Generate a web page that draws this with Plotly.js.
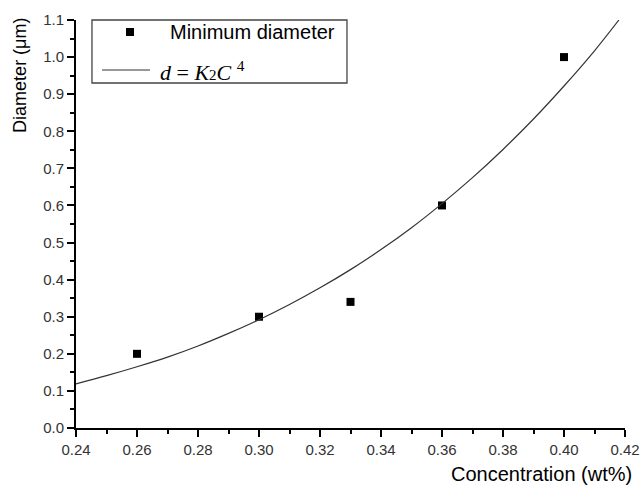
<!DOCTYPE html>
<html><head><meta charset="utf-8">
<script src="https://cdn.plot.ly/plotly-3.0.1.min.js"></script>
<style>body{margin:0;background:#fff}#chart{width:640px;height:485px}</style>
</head><body><div id="chart"></div>
<script>
// Measured points
var concentration = [0.26, 0.30, 0.33, 0.36, 0.40];
var diameter = [0.20, 0.30, 0.34, 0.60, 1.00];
// Fitted curve d = K2*C^4
var fitC = [0.24, 0.25, 0.26, 0.27, 0.28, 0.29, 0.30, 0.31, 0.32, 0.33, 0.34, 0.35, 0.36, 0.37, 0.38, 0.39, 0.40, 0.41, 0.418];
var fitD = [0.119, 0.141, 0.165, 0.191, 0.221, 0.255, 0.292, 0.333, 0.378, 0.427, 0.481, 0.540, 0.605, 0.675, 0.751, 0.833, 0.922, 1.017, 1.100];
var xTicks = [0.24, 0.26, 0.28, 0.30, 0.32, 0.34, 0.36, 0.38, 0.40, 0.42];
var yTicks = [0.0, 0.1, 0.2, 0.3, 0.4, 0.5, 0.6, 0.7, 0.8, 0.9, 1.0, 1.1];
var seriesNames = ['Minimum diameter',
  '<i>d</i> = <i>K</i><span style="font-size:15px">2</span><i>C</i> <sup>4</sup>'];

var traces = [
  {x: concentration, y: diameter, mode: 'markers', type: 'scatter',
   name: 'Minimum diameter', showlegend: false,
   marker: {symbol: 'square', size: 8, color: '#000'}},
  {x: fitC, y: fitD, mode: 'lines', type: 'scatter', showlegend: false, name: 'fit',
   line: {shape: 'spline', color: '#333', width: 1.2}}
];
var axisCommon = {showgrid: false, zeroline: false, showline: true, linecolor: '#000', linewidth: 2,
  ticks: 'outside', ticklen: 7, tickwidth: 1.5, tickcolor: '#000',
  tickfont: {family: 'Liberation Sans, Arial, sans-serif', size: 15, color: '#333'}};
var layout = {
  width: 640, height: 485,
  margin: {l: 76, r: 15, t: 20, b: 57},
  paper_bgcolor: '#fff', plot_bgcolor: '#fff',
  showlegend: false,
  xaxis: Object.assign({}, axisCommon, {range: [0.24, 0.42], tickvals: xTicks,
    ticktext: xTicks.map(function(v){return v.toFixed(2);}),
    minor: {dtick: 0.01, tick0: 0.24, ticklen: 4, tickwidth: 1.5, tickcolor: '#000', ticks: 'outside'}}),
  yaxis: Object.assign({}, axisCommon, {range: [0, 1.1], tickvals: yTicks,
    ticktext: yTicks.map(function(v){return v.toFixed(1);}),
    minor: {dtick: 0.05, tick0: 0, ticklen: 4, tickwidth: 1.5, tickcolor: '#000', ticks: 'outside'}}),
  shapes: [
    // legend box
    {type: 'rect', xref: 'paper', yref: 'paper', x0: 0.0291, x1: 0.4936, y0: 0.8456, y1: 1.0,
     line: {color: '#444', width: 1.3}, fillcolor: '#fff', layer: 'above'},
    // legend marker sample
    {type: 'rect', xref: 'paper', yref: 'paper', xsizemode: 'pixel', ysizemode: 'pixel',
     xanchor: 0.0984, yanchor: 0.9706, x0: -4, x1: 4, y0: -4, y1: 4,
     line: {width: 0}, fillcolor: '#000', layer: 'above'},
    // legend line sample
    {type: 'line', xref: 'paper', yref: 'paper', x0: 0.0474, x1: 0.1348, y0: 0.8775, y1: 0.8775,
     line: {color: '#333', width: 1.2}, layer: 'above'}
  ],
  annotations: [
    {text: seriesNames[0], xref: 'paper', yref: 'paper', x: 0.1676, y: 0.9706,
     xanchor: 'left', yanchor: 'middle', showarrow: false,
     font: {family: 'Liberation Sans, Arial, sans-serif', size: 20, color: '#000'}},
    {text: seriesNames[1], xref: 'paper', yref: 'paper', x: 0.150, y: 0.876,
     xanchor: 'left', yanchor: 'middle', showarrow: false,
     font: {family: 'Liberation Serif, Times New Roman, serif', size: 22, color: '#000'}},
    {text: 'Concentration (wt%)', xref: 'paper', yref: 'paper', x: 1.016, y: -0.082,
     xanchor: 'right', yanchor: 'top', showarrow: false,
     font: {family: 'Liberation Sans, Arial, sans-serif', size: 20, color: '#000'}},
    {text: 'Diameter (μm)', xref: 'paper', yref: 'paper', x: -0.102, y: 0.863,
     xanchor: 'center', yanchor: 'middle', showarrow: false, textangle: -90,
     font: {family: 'Liberation Sans, Arial, sans-serif', size: 18, color: '#000'}}
  ]
};
Plotly.newPlot('chart', traces, layout, {displayModeBar: false});
</script></body></html>
